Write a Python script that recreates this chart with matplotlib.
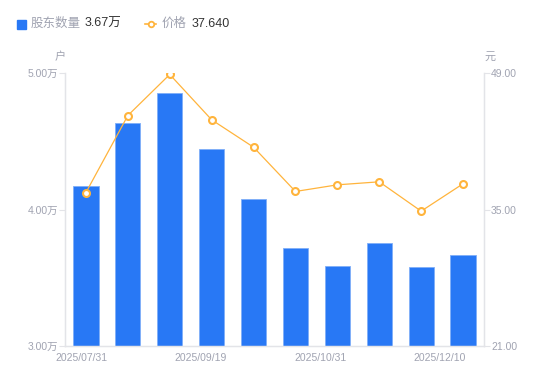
import matplotlib
matplotlib.use("Agg")
import matplotlib.pyplot as plt
from matplotlib.lines import Line2D
import numpy as np

plt.rcParams['font.family'] = ['Liberation Sans', 'Noto Sans CJK SC', 'DejaVu Sans']

dates = ["2025/07/31", "2025/08/20", "2025/08/31", "2025/09/19", "2025/09/30",
         "2025/10/20", "2025/10/31", "2025/11/20", "2025/11/28", "2025/12/10"]
holders = [4.175, 4.635, 4.85, 4.445, 4.078, 3.72, 3.588, 3.758, 3.58, 3.67]  # 万户
price = [36.74, 44.64, 48.85, 44.20, 41.39, 36.85, 37.53, 37.84, 34.83, 37.64]
xlabel_text = ["2025/07/31", "2025/09/19", "2025/10/31", "2025/12/10"]
xlabel_pos = [-0.106, 2.746, 5.598, 8.45]
left_ticks = [3.0, 4.0, 5.0]
right_ticks = [21.0, 35.0, 49.0]

BLUE = "#2878F5"
ORANGE = "#FFB43C"
GRAY = "#A0A3B1"
AXIS = "#E3E4E8"

W, H = 550, 381
fig = plt.figure(figsize=(W / 100, H / 100), dpi=100)
ax = fig.add_axes([65 / W, 1 - 346 / H, 419 / W, 273 / H])
ax2 = ax.twinx()

x = np.arange(len(dates))
ax.bar(x, [h - 3.0 for h in holders], bottom=3.0, width=0.6, color=BLUE,
       edgecolor="#7FAEF8", linewidth=0.6, zorder=2)
ax.set_xlim(-0.5, len(dates) - 0.5)
ax.set_ylim(3.0, 5.0)
ax.set_yticks(left_ticks)
ax.set_yticklabels([f"{v:.2f}万" for v in left_ticks])

ax2.plot(x, price, color=ORANGE, linewidth=0.9, marker="o", markersize=5,
         markerfacecolor="white", markeredgecolor=ORANGE, markeredgewidth=1.5, zorder=3)
ax2.set_ylim(21, 49)
ax2.set_yticks(right_ticks)
ax2.set_yticklabels([f"{v:.2f}" for v in right_ticks])

ax.set_xticks(xlabel_pos)
ax.set_xticklabels(xlabel_text)
ax.tick_params(axis="x", length=0, pad=5, labelsize=7.5, labelcolor=GRAY)
ax.tick_params(axis="y", length=4, width=0.8, color=AXIS, pad=1, labelsize=7.5, labelcolor=GRAY)
ax2.tick_params(axis="y", length=4, width=0.8, color=AXIS, pad=1, labelsize=7.5, labelcolor=GRAY)

for a in (ax, ax2):
    for s in a.spines.values():
        s.set_color(AXIS)
        s.set_linewidth(0.9)
    a.spines["top"].set_visible(False)

fig.text(60 / W, 1 - 57 / H, "户", ha="center", va="center", fontsize=8, color=GRAY)
fig.text(490 / W, 1 - 57 / H, "元", ha="center", va="center", fontsize=8, color=GRAY)

# legend
ly = 1 - 24 / H
fig.patches.append(plt.Rectangle((17 / W, 1 - 29 / H), 9 / W, 9 / H, transform=fig.transFigure,
                                 color=BLUE, figure=fig))
fig.text(31 / W, ly, "股东数量", ha="left", va="center", fontsize=9, color=GRAY)
fig.text(85 / W, ly, f"{holders[-1]:.2f}万", ha="left", va="center", fontsize=9, color="#333333")
fig.lines.append(Line2D([145 / W, 156 / W], [ly, ly], transform=fig.transFigure, color=ORANGE,
                        linewidth=1.2, figure=fig))
fig.lines.append(Line2D([150.5 / W], [ly], transform=fig.transFigure, marker="o", markersize=4,
                        markerfacecolor="white", markeredgecolor=ORANGE, markeredgewidth=1.3,
                        linestyle="none", figure=fig))
fig.text(162 / W, ly, "价格", ha="left", va="center", fontsize=9, color=GRAY)
fig.text(192 / W, ly, f"{price[-1]:.3f}", ha="left", va="center", fontsize=9, color="#333333")

fig.savefig("out.png", dpi=100)
